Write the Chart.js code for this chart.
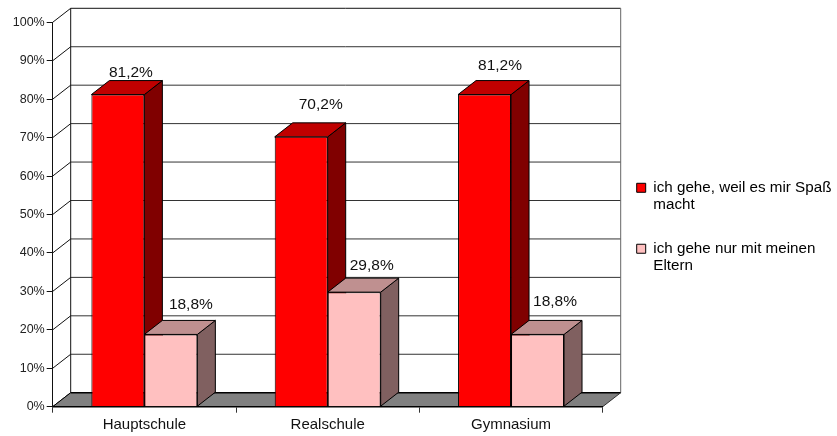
<!DOCTYPE html>
<html><head><meta charset="utf-8">
<style>html,body{margin:0;padding:0;background:#fff}#w{width:837px;height:436px;position:relative}</style>
<script src="https://cdn.jsdelivr.net/npm/chart.js@4/dist/chart.umd.min.js"></script>
</head><body><div id="w"><canvas id="c" width="837" height="436"></canvas></div>
<script>
const categories = ['Hauptschule', 'Realschule', 'Gymnasium'];
const seriesNames = [['ich gehe, weil es mir Spaß', 'macht'], ['ich gehe nur mit meinen', 'Eltern']];
const spass = [81.2, 70.2, 81.2];
const eltern = [18.8, 29.8, 18.8];
const yTicks = [0,10,20,30,40,50,60,70,80,90,100];

const DX = 18, DY = -14;
const FONT = '"Liberation Sans", Arial, sans-serif';
const shade = [
  {front:'#FF0000', top:'#C00000', side:'#800000'},
  {front:'#FFC0C0', top:'#BF9090', side:'#806060'}
];
// small hand nudges of the value labels relative to the top back edge of each bar
const labelNudge = [[[13,-8],[19.5,-18.5],[15.5,-15]], [[20,-16],[17.5,-12.5],[17.5,-19]]];

function poly(ctx, pts, fill, stroke){
  ctx.beginPath();
  pts.forEach((p,i)=> i ? ctx.lineTo(p[0],p[1]) : ctx.moveTo(p[0],p[1]));
  ctx.closePath();
  if(fill){ctx.fillStyle=fill;ctx.fill();}
  if(stroke){ctx.strokeStyle=stroke;ctx.lineWidth=1;ctx.stroke();}
}
function seg(ctx,x1,y1,x2,y2,c,w){
  ctx.beginPath();ctx.moveTo(x1,y1);ctx.lineTo(x2,y2);ctx.strokeStyle=c;ctx.lineWidth=w||1;ctx.stroke();
}

const box3d = {
  id:'box3d',
  beforeLayout(chart){
    const lg = chart.legend;
    if(lg && !lg._patched){
      const fit = lg.fit.bind(lg);
      lg.fit = function(){ fit(); this.width = 234.3; };
      lg._patched = true;
    }
  },
  afterLayout(chart){
    const lg = chart.legend;
    lg.left += 8; lg.right += 8;
    lg.top -= 1; lg.bottom -= 1;
  },
  beforeDraw(chart){
    const ctx = chart.ctx, {left,right} = chart.chartArea, y = chart.scales.y;
    ctx.save();
    ctx.fillStyle='#fff';ctx.fillRect(0,0,chart.width,chart.height);
    const y0 = y.getPixelForValue(0), y100 = y.getPixelForValue(100);
    yTicks.forEach(v=>{
      const p = y.getPixelForValue(v);
      if(v>0) seg(ctx,left+DX,p+DY,right+DX,p+DY, v===100?'#111':'#333');
      seg(ctx,left,p,left+DX,p+DY,'#111');
    });
    seg(ctx,left+DX,y100+DY,left+DX,y0+DY,'#111');
    seg(ctx,right+DX,y100+DY,right+DX,y0+DY,'#666');
    poly(ctx,[[left,y0],[left+DX,y0+DY],[right+DX,y0+DY],[right,y0]],'#808080');
    seg(ctx,left+DX,y0+DY,right+DX,y0+DY,'#000',1.5);
    seg(ctx,left,y0,left+DX,y0+DY,'#000');
    seg(ctx,right,y0,right+DX,y0+DY,'#333');
    ctx.restore();
  },
  beforeDatasetsDraw(chart){
    const ctx = chart.ctx;
    ctx.save();
    shade.forEach((c,ds)=>{
      chart.getDatasetMeta(ds).data.forEach(b=>{
        const l=b.x-b.width/2, r=b.x+b.width/2;
        poly(ctx,[[r,b.y],[r+DX,b.y+DY],[r+DX,b.base+DY],[r,b.base]],c.side,'#000');
        poly(ctx,[[l,b.y],[l+DX,b.y+DY],[r+DX,b.y+DY],[r,b.y]],c.top,'#000');
      });
    });
    ctx.restore();
  },
  afterDatasetsDraw(chart){
    const ctx = chart.ctx;
    ctx.save();
    ctx.font='15.5px '+FONT;ctx.fillStyle='#111';ctx.textAlign='center';ctx.textBaseline='middle';
    [spass,eltern].forEach((vals,ds)=>{
      chart.getDatasetMeta(ds).data.forEach((b,i)=>{
        const n = labelNudge[ds][i];
        ctx.fillText(vals[i].toFixed(1).replace('.',',')+'%', b.x+n[0], b.y+DY+n[1]);
      });
    });
    ctx.restore();
  }
};

new Chart(document.getElementById('c'),{
  type:'bar',
  data:{labels:categories,datasets:[
    {label:seriesNames[0].join(' '),data:spass,backgroundColor:shade[0].front,borderColor:'#000',borderWidth:1,barPercentage:1,categoryPercentage:0.578},
    {label:seriesNames[1].join(' '),data:eltern,backgroundColor:shade[1].front,borderColor:'#000',borderWidth:1,barPercentage:1,categoryPercentage:0.578}
  ]},
  options:{
    responsive:false,animation:false,
    layout:{padding:{top:22.3,left:0,right:0,bottom:0}},
    plugins:{
      tooltip:{enabled:false},
      legend:{position:'right',align:'center',
        labels:{boxWidth:9,boxHeight:9,padding:26,color:'#111',
          font:{family:FONT,size:15.2,lineHeight:1.15},
          generateLabels(){return seriesNames.map((t,i)=>({text:t,fillStyle:shade[i].front,strokeStyle:'#000',lineWidth:1,datasetIndex:i,hidden:false}));}
        }}
    },
    scales:{
      x:{
        afterFit(s){s.height=29.3;},
        grid:{drawOnChartArea:false,offset:true,tickLength:6,tickColor:'#333',tickWidth:1},
        border:{color:'#000',width:1.5},
        ticks:{color:'#111',padding:3,maxRotation:0,font:{family:FONT,size:15}}
      },
      y:{
        min:0,max:100,
        afterFit(s){s.width=52.7;},
        afterBuildTicks(s){s.ticks=yTicks.map(v=>({value:v}));},
        grid:{drawOnChartArea:false,tickLength:6,tickColor:'#111',tickWidth:1},
        border:{color:'#111',width:1},
        ticks:{color:'#222',padding:2,font:{family:FONT,size:12.5},callback:v=>v+'%'}
      }
    }
  },
  plugins:[box3d]
});
</script></body></html>
